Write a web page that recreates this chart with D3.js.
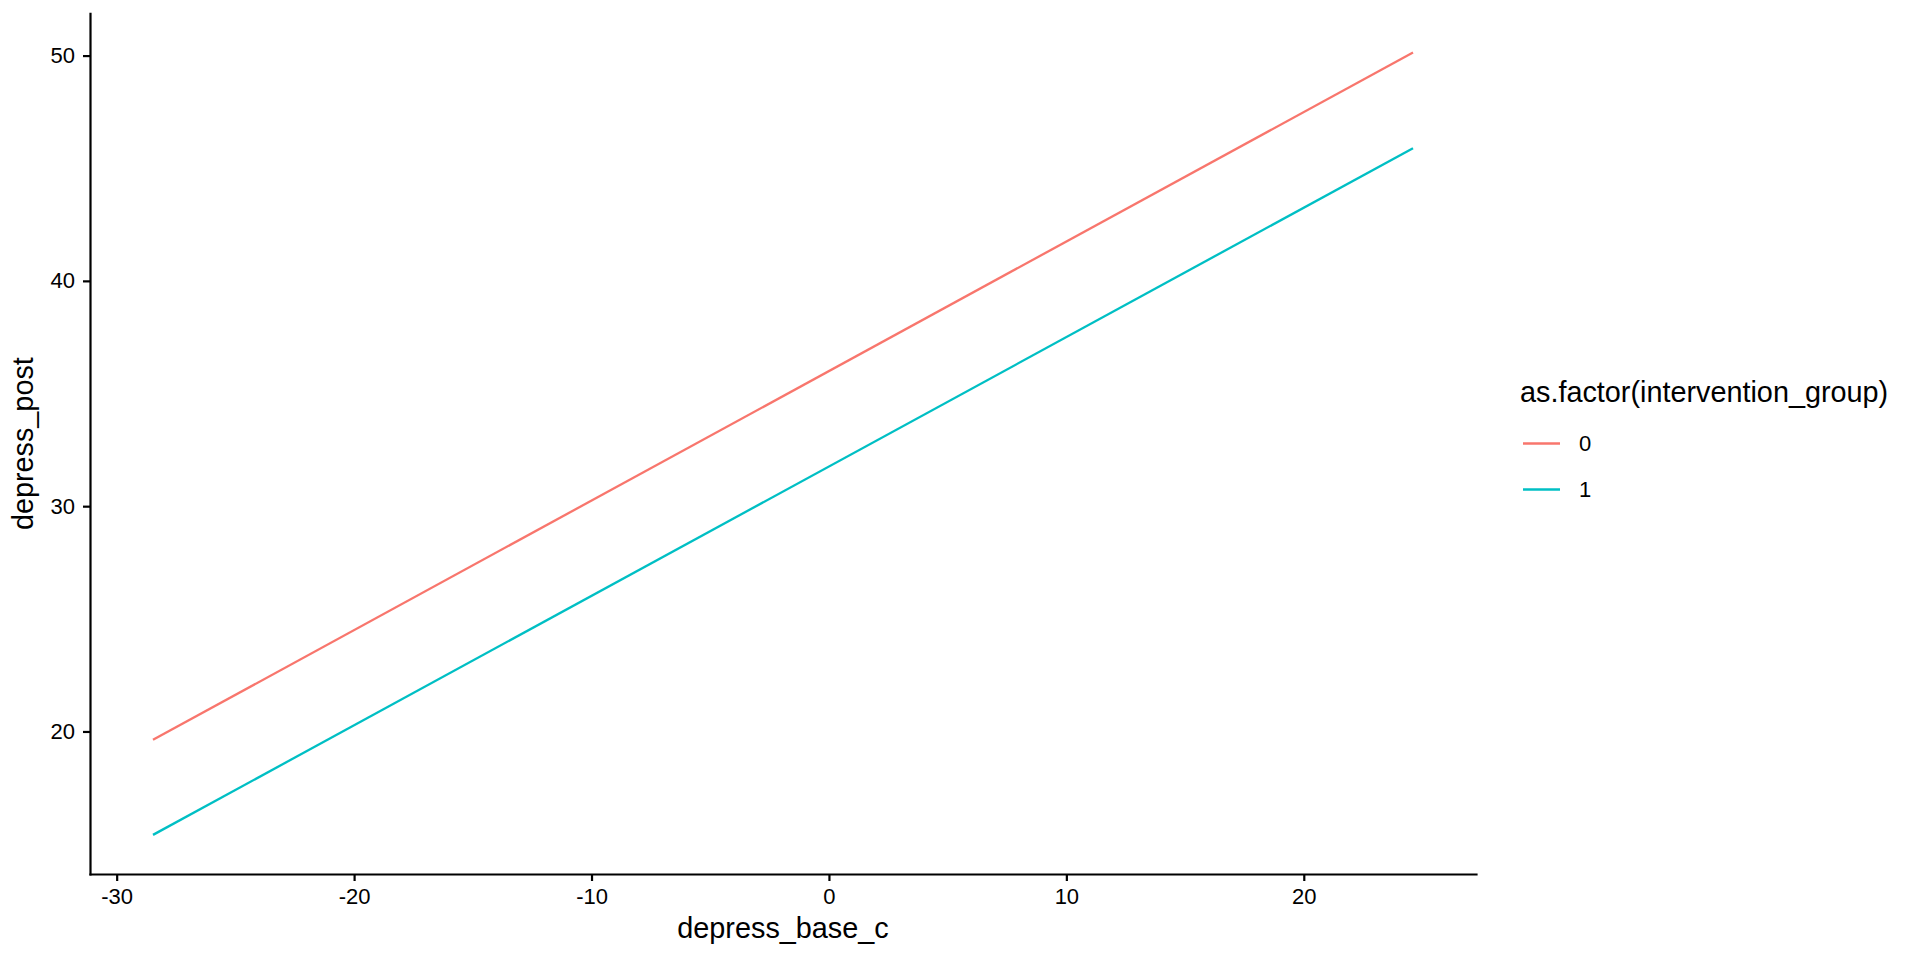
<!DOCTYPE html>
<html>
<head>
<meta charset="utf-8">
<script src="https://cdn.jsdelivr.net/npm/d3@7"></script>
<style>
  html, body { margin: 0; padding: 0; background: #ffffff; }
  svg { display: block; font-family: "Liberation Sans", Arial, Helvetica, sans-serif; }
</style>
</head>
<body>
<svg id="chart" width="1920" height="960"></svg>
<script>
// ---- data ----
const lineX = [-28.47, 24.6];           // depress_base_c range of fitted lines
const group0 = [19.63, 50.14];          // intervention_group = 0
const group1 = [15.41, 45.89];          // intervention_group = 1
const groupNames = ["0", "1"];
const groupColors = ["#F8766D", "#00BFC4"];
const xTicks = [-30, -20, -10, 0, 10, 20];
const yTicks = [20, 30, 40, 50];
const xTitle = "depress_base_c";
const yTitle = "depress_post";
const legendTitle = "as.factor(intervention_group)";

// ---- layout ----
const W = 1920, H = 960;
const panel = { left: 90, right: 1476, top: 13.3, bottom: 874 };

const svg = d3.select("#chart");

function expand(ext) {
  const s = ext[1] - ext[0];
  return [ext[0] - 0.05 * s, ext[1] + 0.05 * s];
}
const allY = group0.concat(group1);
const x = d3.scaleLinear().domain(expand(d3.extent(lineX))).range([panel.left, panel.right]);
const y = d3.scaleLinear().domain(expand(d3.extent(allY))).range([panel.bottom, panel.top]);

// ---- lines ----
const series = [group0, group1].map((vals, i) => ({
  name: groupNames[i],
  color: groupColors[i],
  pts: lineX.map((xv, j) => [xv, vals[j]])
}));
const line = d3.line().x(d => x(d[0])).y(d => y(d[1]));
svg.append("g").selectAll("path").data(series).join("path")
  .attr("d", d => line(d.pts))
  .attr("fill", "none")
  .attr("stroke", d => d.color)
  .attr("stroke-width", 2.3);

// ---- axes ----
const xAxis = svg.append("g")
  .attr("transform", `translate(0,${panel.bottom})`)
  .call(d3.axisBottom(x).tickValues(xTicks).tickSize(7).tickSizeOuter(0).tickPadding(7)
    .tickFormat(d => String(d)));
const yAxis = svg.append("g")
  .attr("transform", `translate(${panel.left},0)`)
  .call(d3.axisLeft(y).tickValues(yTicks).tickSize(7).tickSizeOuter(0).tickPadding(8)
    .tickFormat(d => String(d)));

[xAxis, yAxis].forEach(g => {
  g.select(".domain").attr("stroke", "#000").attr("stroke-width", 2.2).attr("stroke-linecap", "square");
  g.selectAll(".tick line").attr("stroke", "#000").attr("stroke-width", 2.2);
  g.selectAll(".tick text").attr("fill", "#000").attr("font-size", 22)
    .attr("font-family", "'Liberation Sans', Arial, Helvetica, sans-serif");
});

// ---- axis titles ----
svg.append("text")
  .attr("x", (panel.left + panel.right) / 2)
  .attr("y", 938)
  .attr("text-anchor", "middle")
  .attr("font-size", 28.8)
  .attr("fill", "#000")
  .text(xTitle);

svg.append("text")
  .attr("transform", `translate(33,${(panel.top + panel.bottom) / 2}) rotate(-90)`)
  .attr("text-anchor", "middle")
  .attr("font-size", 28.8)
  .attr("fill", "#000")
  .text(yTitle);

// ---- legend ----
const lg = svg.append("g").attr("transform", "translate(1520,0)");
lg.append("text")
  .attr("x", 0).attr("y", 402)
  .attr("font-size", 28.8)
  .attr("fill", "#000")
  .text(legendTitle);
const keyY = [443.5, 489.5];
const items = lg.selectAll("g.item").data(series).join("g")
  .attr("class", "item")
  .attr("transform", (d, i) => `translate(0,${keyY[i]})`);
items.append("line")
  .attr("x1", 3).attr("x2", 40).attr("y1", 0).attr("y2", 0)
  .attr("stroke", d => d.color).attr("stroke-width", 2.3);
items.append("text")
  .attr("x", 59).attr("y", 0).attr("dy", "0.36em")
  .attr("font-size", 22)
  .attr("fill", "#000")
  .text(d => d.name);
</script>
</body>
</html>
